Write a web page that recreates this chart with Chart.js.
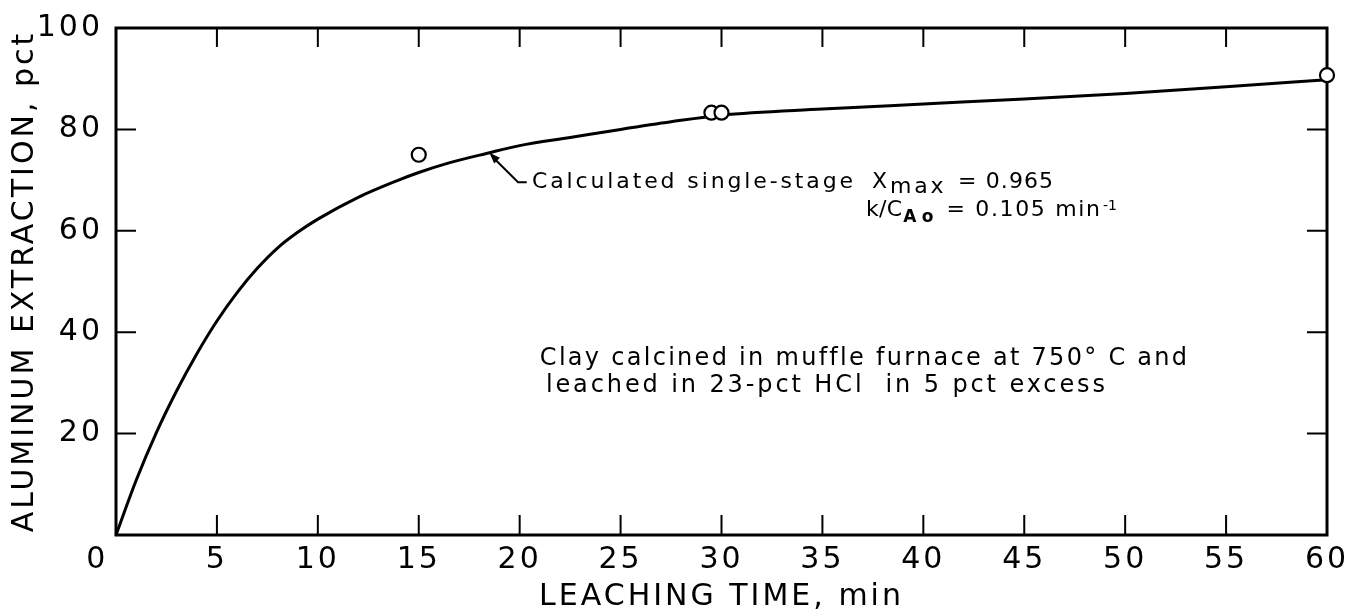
<!DOCTYPE html>
<html><head><meta charset="utf-8">
<script src="https://cdn.jsdelivr.net/npm/chart.js@4/dist/chart.umd.min.js"></script>
<style>html,body{margin:0;padding:0;background:#fff;overflow:hidden}canvas{display:block}</style>
</head><body>
<canvas id="c" width="1349" height="613"></canvas>
<script>
// ---- data ----
const curveTime       = [0, 1, 2, 3, 4, 5, 6, 7, 8, 9, 10, 12, 14, 15, 16.5, 18.4, 20, 22.5, 25, 27.5, 30, 35, 40, 45, 50, 55, 60];
const curveExtraction = [0, 10.8, 20.2, 28.4, 35.7, 42.2, 47.8, 52.6, 56.6, 59.7, 62.3, 66.6, 70.0, 71.5, 73.4, 75.3, 76.8, 78.4, 80.0, 81.5, 82.8, 84.0, 85.0, 86.0, 87.1, 88.4, 89.8];
const sampleTime       = [15, 29.5, 30, 60];
const sampleExtraction = [75, 83.3, 83.3, 90.7];
const xTicks = [0, 5, 10, 15, 20, 25, 30, 35, 40, 45, 50, 55, 60];
const yTicks = [0, 20, 40, 60, 80, 100];
const xTitle = 'LEACHING TIME, min';
const yTitle = 'ALUMINUM EXTRACTION, pct';
const noteCalc1 = ['Calculated single-stage', 'X', 'max', '= 0.965'];
const noteCalc2 = ['k/C', 'Ao', '= 0.105 min', '-1'];
const noteClay1 = 'Clay calcined in muffle furnace at 750\u00B0 C and';
const noteClay2 = 'leached in 23-pct HCl  in 5 pct excess';

const FAM = '"DejaVu Sans", "Liberation Sans", sans-serif';

// draw text starting at data x s, ending at data x e (letter spacing fitted), baseline at data y b
function drawFit(ctx, xs, ys, text, s, e, b, size, bold) {
  const px = xs.getPixelForValue(s);
  ctx.font = (bold ? 'bold ' : '') + size + 'px ' + FAM;
  ctx.letterSpacing = '0px';
  ctx.wordSpacing = '0px';
  if (e !== null) {
    const nat = ctx.measureText(text).width;
    const ls = (xs.getPixelForValue(e) - px - nat) / Math.max(1, text.length - 1);
    ctx.letterSpacing = ls + 'px';
  }
  ctx.fillText(text, px, ys.getPixelForValue(b));
}

const framePlugin = {
  id: 'frame',
  beforeUpdate(chart) { chart.ctx.letterSpacing = '3px'; },
  beforeLayout(chart) { chart.ctx.letterSpacing = '3px'; },
  beforeDraw(chart) { chart.ctx.letterSpacing = '3px'; },
  beforeDatasetsDraw(chart) {
    const {ctx, chartArea: a, scales: {x, y}} = chart;
    ctx.save();
    ctx.strokeStyle = '#000';
    ctx.lineWidth = 3;
    ctx.strokeRect(a.left, a.top, a.right - a.left, a.bottom - a.top);
    ctx.lineWidth = 2;
    ctx.beginPath();
    xTicks.forEach(v => {
      if (v === xTicks[0] || v === xTicks[xTicks.length - 1]) return;
      const p = x.getPixelForValue(v);
      ctx.moveTo(p, a.bottom); ctx.lineTo(p, a.bottom - 20);
      ctx.moveTo(p, a.top); ctx.lineTo(p, a.top + 19);
    });
    yTicks.forEach(v => {
      if (v === yTicks[0] || v === yTicks[yTicks.length - 1]) return;
      const p = y.getPixelForValue(v);
      ctx.moveTo(a.left, p); ctx.lineTo(a.left + 20, p);
      ctx.moveTo(a.right, p); ctx.lineTo(a.right - 20, p);
    });
    ctx.stroke();
    ctx.restore();
  },
  afterDatasetsDraw(chart) {
    const {ctx, scales: {x, y}} = chart;
    ctx.save();
    ctx.fillStyle = '#000';
    ctx.strokeStyle = '#000';
    ctx.textBaseline = 'alphabetic';
    ctx.textAlign = 'left';
    // arrow from note to curve
    const tip = [x.getPixelForValue(18.5), y.getPixelForValue(75.4)];
    const knee = [x.getPixelForValue(19.92), y.getPixelForValue(69.6)];
    const end = [x.getPixelForValue(20.35), y.getPixelForValue(69.6)];
    ctx.lineWidth = 2;
    ctx.beginPath();
    ctx.moveTo(end[0], end[1]); ctx.lineTo(knee[0], knee[1]); ctx.lineTo(tip[0] + 3, tip[1] + 4);
    ctx.stroke();
    const ang = Math.atan2(tip[1] - knee[1], tip[0] - knee[0]);
    ctx.beginPath();
    ctx.moveTo(tip[0], tip[1]);
    ctx.lineTo(tip[0] - 11 * Math.cos(ang) + 4 * Math.sin(ang), tip[1] - 11 * Math.sin(ang) - 4 * Math.cos(ang));
    ctx.lineTo(tip[0] - 11 * Math.cos(ang) - 4 * Math.sin(ang), tip[1] - 11 * Math.sin(ang) + 4 * Math.cos(ang));
    ctx.closePath(); ctx.fill();
    // calculated-curve note
    drawFit(ctx, x, y, noteCalc1[0], 20.61, 36.52, 68.44, 22, false);
    drawFit(ctx, x, y, noteCalc1[1], 37.46, null, 68.44, 22, false);
    drawFit(ctx, x, y, noteCalc1[2], 38.35, 41.0, 67.46, 22, false);
    drawFit(ctx, x, y, noteCalc1[3], 41.72, 46.43, 68.44, 22, false);
    drawFit(ctx, x, y, noteCalc2[0], 37.16, 38.95, 62.92, 22, false);
    drawFit(ctx, x, y, noteCalc2[1], 39.0, 40.5, 61.74, 17, true);
    drawFit(ctx, x, y, noteCalc2[2], 41.15, 48.75, 62.92, 22, false);
    drawFit(ctx, x, y, noteCalc2[3], 48.90, null, 64.10, 14, false);
    // experiment note
    drawFit(ctx, x, y, noteClay1, 21.0, 53.05, 33.5, 24, false);
    drawFit(ctx, x, y, noteClay2, 21.3, 49.0, 28.2, 24, false);
    ctx.restore();
    ctx.letterSpacing = '3px';
    ctx.wordSpacing = '0px';
  }
};

new Chart(document.getElementById('c'), {
  type: 'line',
  data: {
    datasets: [
      {
        type: 'scatter',
        label: 'Measured',
        data: sampleTime.map((t, i) => ({x: t, y: sampleExtraction[i]})),
        pointRadius: 7,
        pointBorderWidth: 2.2,
        pointBorderColor: '#000',
        pointBackgroundColor: '#fff',
        showLine: false,
        clip: false,
        order: 0
      },
      {
        type: 'line',
        label: 'Calculated single-stage',
        data: curveTime.map((t, i) => ({x: t, y: curveExtraction[i]})),
        borderColor: '#000',
        borderWidth: 3,
        pointRadius: 0,
        fill: false,
        cubicInterpolationMode: 'monotone',
        clip: false,
        order: 1
      }
    ]
  },
  options: {
    responsive: false,
    animation: false,
    events: [],
    layout: {padding: {top: 28, right: 22, left: 0, bottom: 0}},
    plugins: {legend: {display: false}, tooltip: {enabled: false}, title: {display: false}},
    scales: {
      x: {
        type: 'linear', min: 0, max: 60,
        afterBuildTicks(s) { s.ticks = xTicks.map(v => ({value: v})); },
        afterFit(s) { s.height = 78; },
        grid: {display: false}, border: {display: false},
        ticks: {
          autoSkip: false, maxRotation: 0, padding: -1, color: '#000',
          font: {family: FAM, size: 30},
          callback: v => v === 0 ? '0   ' : String(v)
        },
        title: {display: true, text: xTitle, color: '#000', font: {family: FAM, size: 30, lineHeight: 1}, padding: {top: 0, bottom: 1}}
      },
      y: {
        type: 'linear', min: 0, max: 100,
        afterBuildTicks(s) { s.ticks = yTicks.map(v => ({value: v})); },
        afterFit(s) { s.width = 116; },
        grid: {display: false}, border: {display: false},
        ticks: {
          autoSkip: false, padding: 5, color: '#000',
          font: {family: FAM, size: 30},
          callback: v => v === 0 ? '' : String(v)
        },
        title: {display: true, text: yTitle, color: '#000', font: {family: FAM, size: 30, lineHeight: 1.2}, padding: {top: 7, bottom: 0}}
      }
    }
  },
  plugins: [framePlugin]
});
</script>
</body></html>
